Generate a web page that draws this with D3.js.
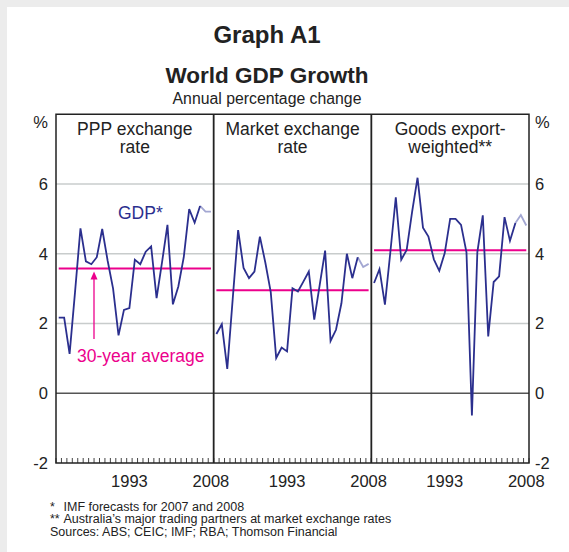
<!DOCTYPE html>
<html>
<head>
<meta charset="utf-8">
<script src="https://d3js.org/d3.v7.min.js"></script>
<style>
  body { margin: 0; background: #ececec; }
  text { font-family: "Liberation Sans", Arial, sans-serif; fill: #222; }
</style>
</head>
<body>
<svg id="chart" width="569" height="552"></svg>
<script>
// years shown in each panel
var years = [1980, 1981, 1982, 1983, 1984, 1985, 1986, 1987, 1988, 1989,
             1990, 1991, 1992, 1993, 1994, 1995, 1996, 1997, 1998, 1999,
             2000, 2001, 2002, 2003, 2004, 2005, 2006, 2007, 2008]
var forecastFrom = 2006 // 2007 and 2008 are IMF forecasts (lighter line)

var pppGrowth = [2.17, 2.17, 1.13, 2.9, 4.73, 3.78, 3.70, 3.90, 4.71, 3.8,
                 3.0, 1.66, 2.39, 2.44, 3.83, 3.70, 4.06, 4.21, 2.73, 3.75,
                 4.83, 2.55, 3.06, 3.9, 5.28, 4.89, 5.37, 5.21, 5.21]
var marketGrowth = [1.70, 1.98, 0.70, 2.7, 4.68, 3.59, 3.30, 3.49, 4.49, 3.75,
                    2.9, 1.01, 1.31, 1.20, 3.01, 2.92, 3.20, 3.49, 2.11, 3.1,
                    4.09, 1.50, 1.82, 2.58, 4.00, 3.30, 3.90, 3.62, 3.71]
var exportGrowth = [3.16, 3.56, 2.54, 4.05, 5.62, 3.83, 4.11, 5.2, 6.18, 4.75,
                    4.49, 3.84, 3.51, 4.02, 5.00, 5.00, 4.83, 4.04, -0.64, 4.05,
                    5.10, 1.63, 3.19, 3.35, 5.05, 4.37, 4.88, 5.11, 4.81]
var averages = [3.58, 2.95, 4.10]

var panelNames = ['ppp', 'market', 'export']
var panelTitles = [['PPP exchange', 'rate'], ['Market exchange', 'rate'], ['Goods export-', 'weighted**']]
var yTicks = [-2, 0, 2, 4, 6]
var xLabels = [1993, 2008]
var footnotes = [['*', 'IMF forecasts for 2007 and 2008'],
                 ['**', 'Australia\u2019s major trading partners at market exchange rates'],
                 ['', 'Sources: ABS; CEIC; IMF; RBA; Thomson Financial']]

var navy = '#2b2f8e', light = '#a3a7d2', pink = '#ec008c'

var svg = d3.select('#chart')
svg.append('rect').attr('x', 7).attr('y', 7).attr('width', 562).attr('height', 545).attr('fill', '#fff')

var left = 56, right = 529
var y = d3.scaleLinear().domain([-2, 8]).range([463, 114.25])
var panels = d3.scaleBand().domain(panelNames).range([left, right])

// titles
svg.append('text').attr('x', 267).attr('y', 43).attr('text-anchor', 'middle')
    .style('font-size', '24px').style('font-weight', 'bold').text('Graph A1')
svg.append('text').attr('x', 267).attr('y', 83).attr('text-anchor', 'middle')
    .style('font-size', '22.5px').style('font-weight', 'bold').text('World GDP Growth')
svg.append('text').attr('x', 267).attr('y', 104).attr('text-anchor', 'middle')
    .style('font-size', '15.8px').text('Annual percentage change')

// gridlines
svg.selectAll('line.grid').data([2, 4, 6]).enter().append('line').classed('grid', true)
    .attr('x1', left).attr('x2', right)
    .attr('y1', function(d) { return y(d) }).attr('y2', function(d) { return y(d) })
    .attr('stroke', '#c8cccc').attr('stroke-width', 1.5)
svg.append('line').attr('x1', left).attr('x2', right).attr('y1', y(0)).attr('y2', y(0))
    .attr('stroke', '#555').attr('stroke-width', 1.5)

// y axes both sides
var fmt = function(d) { return String(d) }
var leftAxis = d3.axisLeft(y).tickValues(yTicks).tickFormat(fmt).tickSize(0).tickPadding(8)
var rightAxis = d3.axisRight(y).tickValues(yTicks).tickFormat(fmt).tickSize(0).tickPadding(6)
var la = svg.append('g').attr('transform', 'translate(' + left + ',0)').call(leftAxis)
var ra = svg.append('g').attr('transform', 'translate(' + right + ',0)').call(rightAxis)
;[la, ra].forEach(function(g) {
    g.select('.domain').remove()
    g.selectAll('text').style('font-size', '16.5px').attr('fill', '#222')
        .style('font-family', '"Liberation Sans", Arial, sans-serif')
})
svg.append('text').attr('x', 48).attr('y', 128).attr('text-anchor', 'end').style('font-size', '16.5px').text('%')
svg.append('text').attr('x', 535).attr('y', 128).style('font-size', '16.5px').text('%')

var seriesList = [pppGrowth, marketGrowth, exportGrowth]

panelNames.forEach(function(name, p) {
    var x0 = panels(name)
    var x = d3.scaleBand().domain(years).range([x0, x0 + panels.bandwidth()])
    var cx = function(yr) { return x(yr) + x.bandwidth() / 2 }
    var g = svg.append('g')

    // minor ticks at year boundaries
    var bounds = years.map(function(yr) { return x(yr) }).concat([x0 + panels.bandwidth()])
    g.selectAll('line.tick').data(bounds).enter().append('line')
        .attr('x1', function(d) { return d }).attr('x2', function(d) { return d })
        .attr('y1', y(-2)).attr('y2', y(-2) - 5)
        .attr('stroke', '#444').attr('stroke-width', 1)

    g.selectAll('text.xlab').data(xLabels).enter().append('text')
        .attr('x', function(d) { return cx(d) }).attr('y', 487)
        .attr('text-anchor', 'middle').style('font-size', '16.5px')
        .text(function(d) { return d })

    // panel title
    g.selectAll('text.ptitle').data(panelTitles[p]).enter().append('text')
        .attr('x', x0 + panels.bandwidth() / 2)
        .attr('y', function(d, i) { return 135 + i * 18.3 })
        .attr('text-anchor', 'middle').style('font-size', '17.5px')
        .text(function(d) { return d })

    // 30-year average
    g.append('line')
        .attr('x1', cx(years[0])).attr('x2', cx(years[years.length - 1]))
        .attr('y1', y(averages[p])).attr('y2', y(averages[p]))
        .attr('stroke', pink).attr('stroke-width', 2)

    var pts = years.map(function(yr, i) { return {year: yr, v: seriesList[p][i]} })
    var line = d3.line().x(function(d) { return cx(d.year) }).y(function(d) { return y(d.v) })
    g.append('path').datum(pts.filter(function(d) { return d.year >= forecastFrom }))
        .attr('d', line).attr('fill', 'none').attr('stroke', light).attr('stroke-width', 1.8)
    g.append('path').datum(pts.filter(function(d) { return d.year <= forecastFrom }))
        .attr('d', line).attr('fill', 'none').attr('stroke', navy).attr('stroke-width', 1.8)
})

// frame and panel dividers
svg.append('rect').attr('x', left).attr('y', y(8)).attr('width', right - left).attr('height', y(-2) - y(8))
    .attr('fill', 'none').attr('stroke', '#222').attr('stroke-width', 1.5)
svg.selectAll('line.divider').data(panelNames.slice(1)).enter().append('line')
    .attr('x1', function(d) { return panels(d) }).attr('x2', function(d) { return panels(d) })
    .attr('y1', y(8)).attr('y2', y(-2)).attr('stroke', '#222').attr('stroke-width', 1.8)

// annotations
svg.append('text').attr('x', 118).attr('y', 219).style('font-size', '17.5px')
    .style('fill', navy).text('GDP*')
svg.append('text').attr('x', 77).attr('y', 362).style('font-size', '17.5px').style('fill', pink)
    .text('30-year average')
var ax = 94, tipY = y(averages[0]) + 3
svg.append('line').attr('x1', ax).attr('x2', ax).attr('y1', 339).attr('y2', tipY + 6)
    .attr('stroke', pink).attr('stroke-width', 1.3)
svg.append('path').attr('d', 'M' + ax + ',' + tipY + 'L' + (ax - 3.5) + ',' + (tipY + 8) + 'L' + (ax + 3.5) + ',' + (tipY + 8) + 'Z')
    .attr('fill', pink)

// footnotes
var notes = svg.append('g').style('font-size', '12.5px')
notes.selectAll('text').data(footnotes).enter().append('text')
    .attr('x', 50).attr('y', function(d, i) { return 510.5 + i * 12.6 })
    .each(function(d) {
        var t = d3.select(this)
        if (d[0]) {
            t.append('tspan').text(d[0])
            t.append('tspan').attr('x', 63.5).text(d[1])
        } else {
            t.text(d[1])
        }
    })
</script>
</body>
</html>
